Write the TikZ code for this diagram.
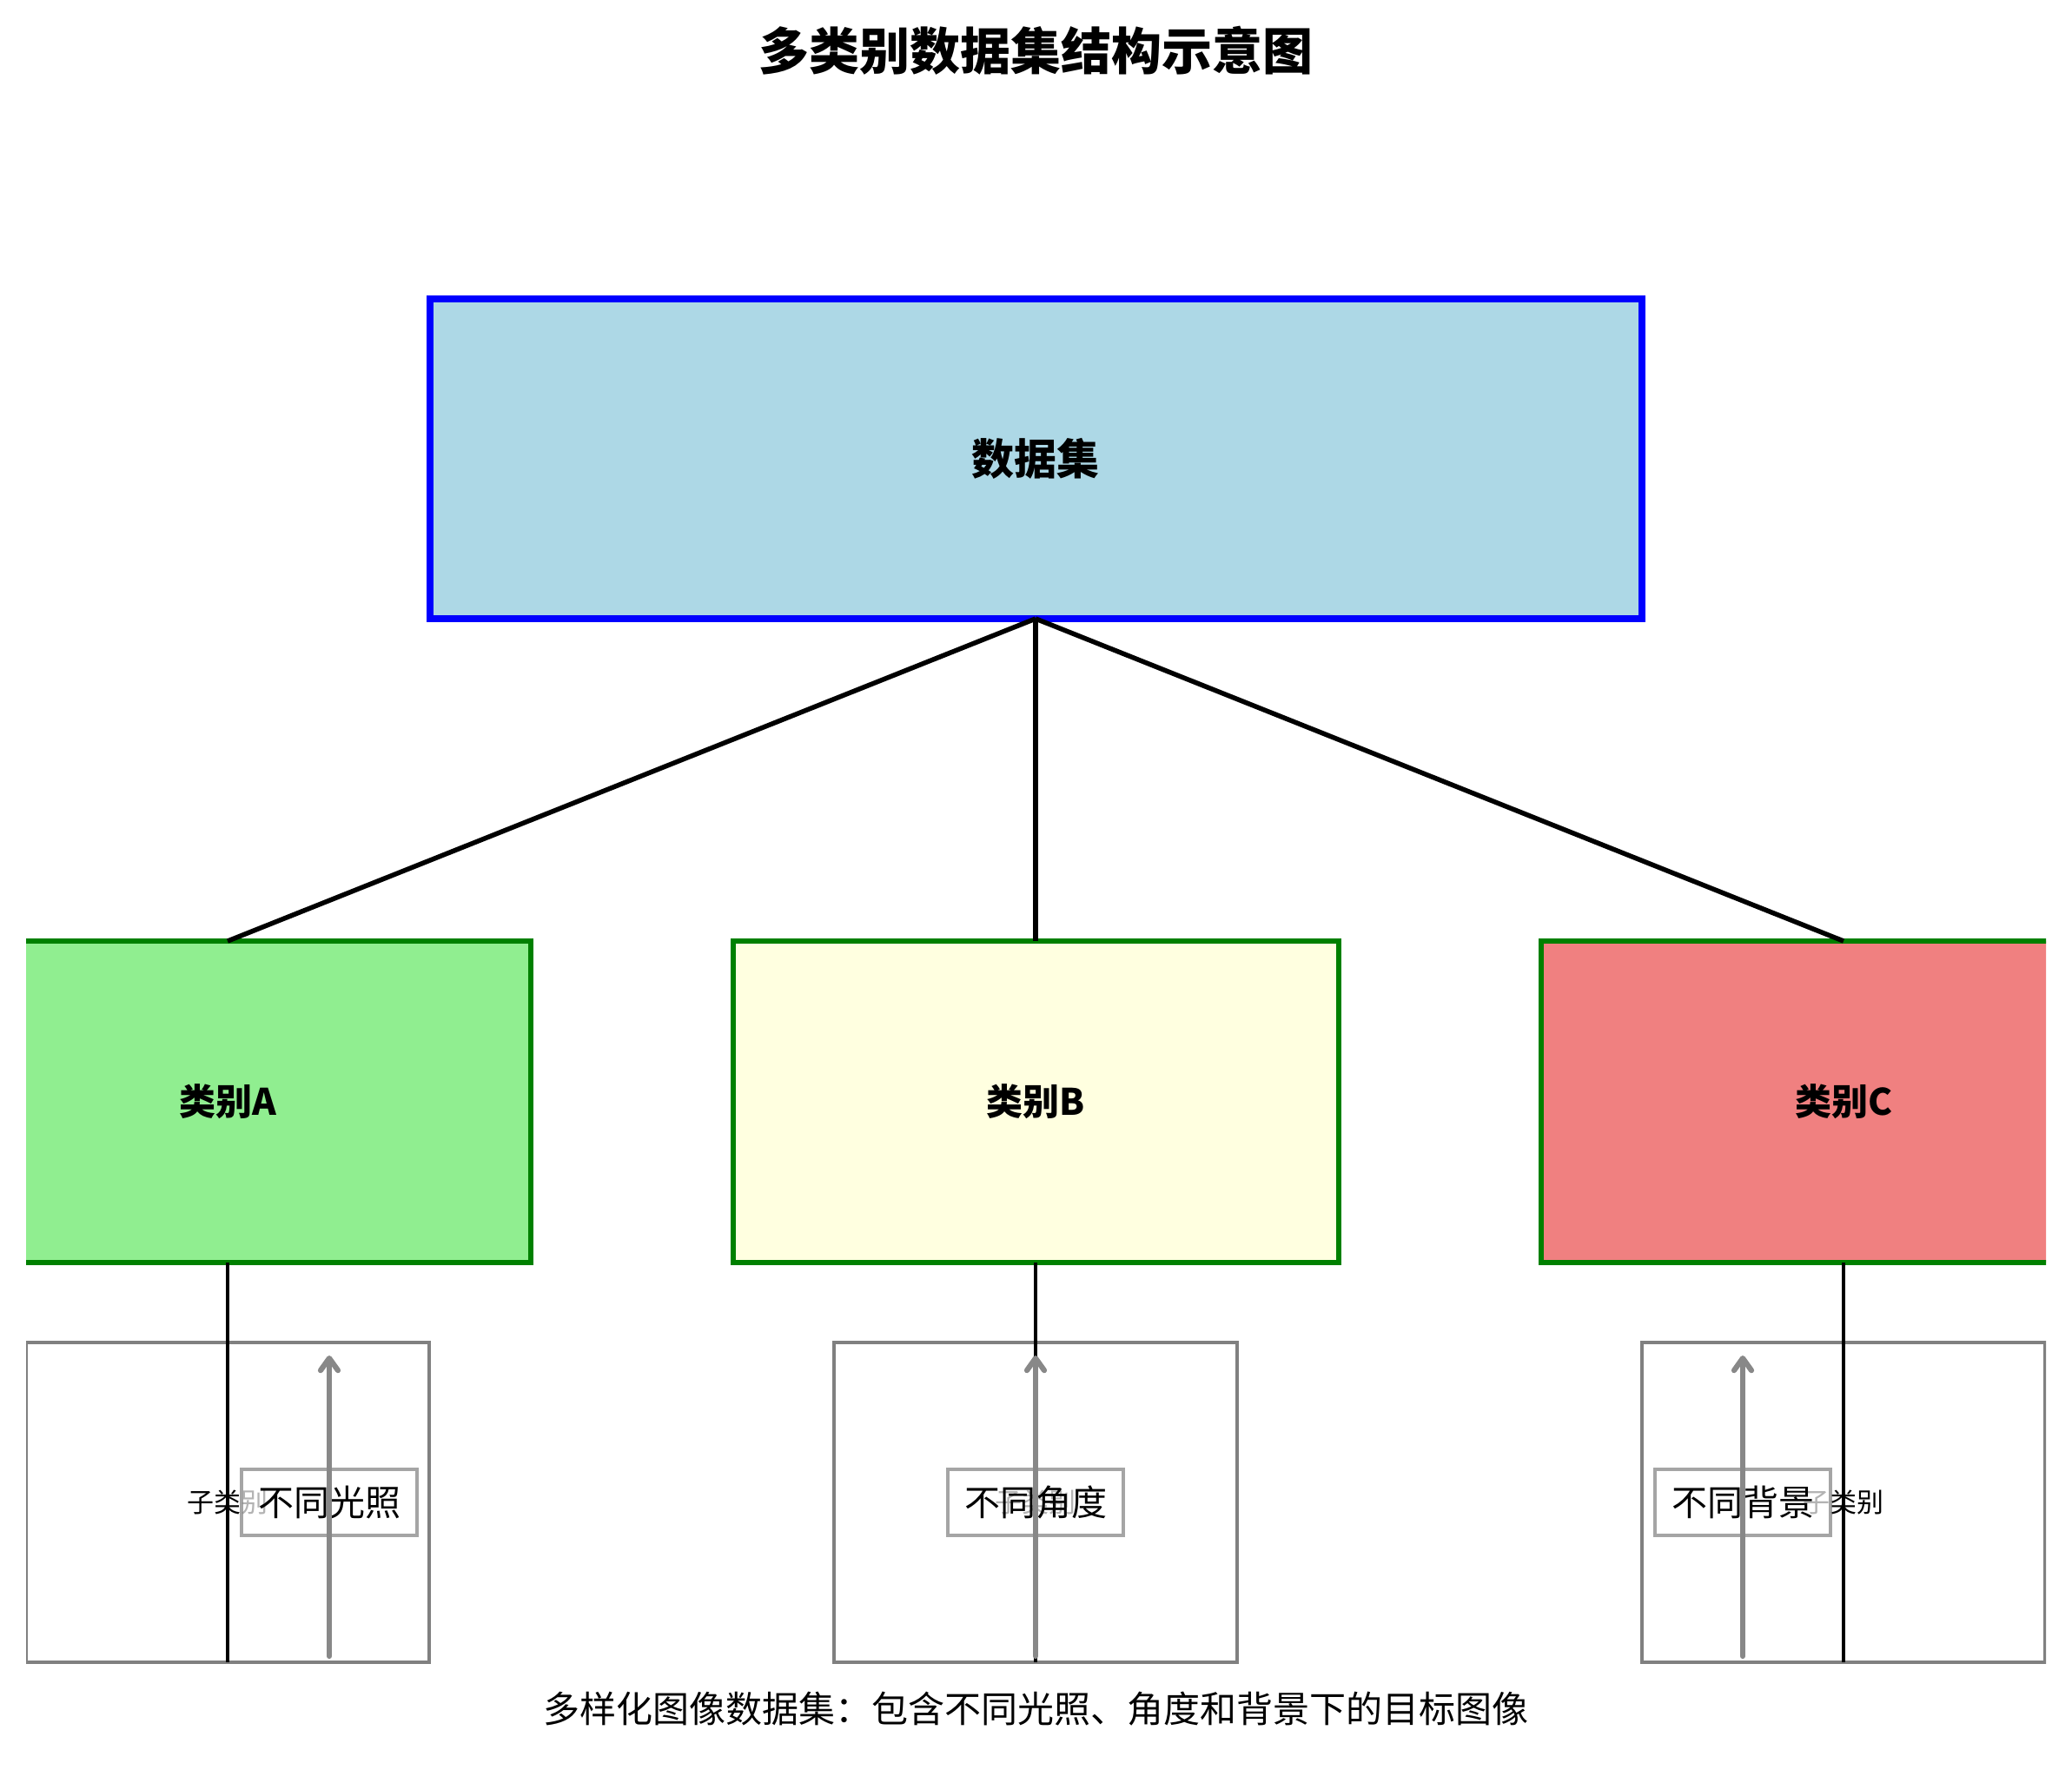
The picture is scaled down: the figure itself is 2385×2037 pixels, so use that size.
\documentclass[tikz,border=0pt]{standalone}
\usepackage{fontspec}
\setmainfont{Noto Sans CJK SC}
\usetikzlibrary{arrows.meta}
\definecolor{dsfill}{HTML}{ADD8E6}
\definecolor{dsline}{HTML}{0000FF}
\definecolor{catline}{HTML}{008000}
\definecolor{fillA}{HTML}{90EE90}
\definecolor{fillB}{HTML}{FFFFE0}
\definecolor{fillC}{HTML}{F08080}
\definecolor{boxgray}{HTML}{808080}
\definecolor{arrowgray}{HTML}{888888}
\tikzset{
  dsbox/.style={draw=dsline, fill=dsfill, line width=8pt, minimum width=1395pt, minimum height=368pt, inner sep=0pt, outer sep=0pt,
    font=\fontsize{49}{56}\selectfont\bfseries},
  catbox/.style={draw=catline, line width=6pt, minimum width=697pt, minimum height=370pt, inner sep=0pt, outer sep=0pt,
    font=\fontsize{42}{48}\selectfont\bfseries},
  subbox/.style={draw=boxgray, line width=3.5pt, minimum width=464pt, minimum height=368pt, inner sep=0pt, outer sep=0pt,
    font=\fontsize{31}{36}\selectfont},
  lblbox/.style={draw=boxgray, fill=white, fill opacity=0.7, draw opacity=0.7, text opacity=1, line width=4pt,
    minimum width=202pt, minimum height=76pt, inner sep=0pt, outer sep=0pt, font=\fontsize{41}{46}\selectfont},
  upline/.style={draw=black, line width=5.5pt},
  downline/.style={draw=black, line width=4pt},
  varrow/.style={draw=arrowgray, line width=6.2pt, line cap=round, -{Straight Barb[length=14pt, width=20pt, round]}},
}
\begin{document}
\begin{tikzpicture}[x=1pt, y=-1pt]
\useasboundingbox (0,0) rectangle (2385,2037);
\fill[white] (0,0) rectangle (2385,2037);
\node (title) at (1192,58) {\fontsize{58}{66}\selectfont\bfseries 多类别数据集结构示意图};
\begin{scope}
\clip (30,0) rectangle (2355,2037);
\node[dsbox] (ds) at (1192,528) {数据集};
\node[catbox, fill=fillA] (catA) at (262,1268) {类别A};
\node[catbox, fill=fillB] (catB) at (1192,1268) {类别B};
\node[catbox, fill=fillC] (catC) at (2122,1268) {类别C};
\draw[upline] (ds.south) -- (catA.north);
\draw[upline] (ds.south) -- (catB.north);
\draw[upline] (ds.south) -- (catC.north);
\node[subbox] (gA) at (262,1729) {子类别};
\node[subbox] (gB) at (1192,1729) {子类别};
\node[subbox] (gC) at (2122,1729) {子类别};
\draw[downline] (catA.south) -- (gA.south);
\draw[downline] (catB.south) -- (gB.south);
\draw[downline] (catC.south) -- (gC.south);
\node[lblbox] (lA) at (379,1729) {不同光照};
\node[lblbox] (lB) at (1192,1729) {不同角度};
\node[lblbox] (lC) at (2006,1729) {不同背景};
\coordinate (aA0) at (379,1906);
\coordinate (aA1) at (379,1560);
\coordinate (aB0) at (1192,1906);
\coordinate (aB1) at (1192,1560);
\coordinate (aC0) at (2006,1906);
\coordinate (aC1) at (2006,1560);
\draw[varrow] (aA0) -- (aA1);
\draw[varrow] (aB0) -- (aB1);
\draw[varrow] (aC0) -- (aC1);
\end{scope}
\node (cap) at (1192,1967) {\fontsize{42}{50}\selectfont 多样化图像数据集：包含不同光照、角度和背景下的目标图像};
\end{tikzpicture}
\end{document}
